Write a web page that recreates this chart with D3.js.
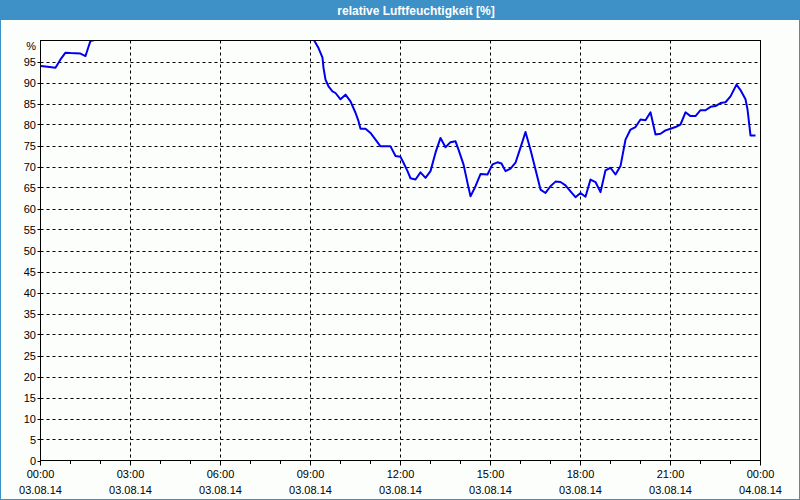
<!DOCTYPE html>
<html>
<head>
<meta charset="utf-8">
<script src="https://cdn.jsdelivr.net/npm/d3@7/dist/d3.min.js"></script>
<style>
  html, body { margin: 0; padding: 0; background: #fcfefc; }
  svg { display: block; }
</style>
</head>
<body>
<svg id="chart" width="800" height="500"></svg>
<script>
// ---- data ----
const title = "relative Luftfeuchtigkeit [%]";
// minutes since 03.08.14 00:00
const minutes = [0,10,30,40,50,60,80,90,96,100,110,120,540,546,556,564,566,570,576,584,590,600,610,620,630,636,640,650,660,670,680,700,710,720,726,734,740,750,760,770,780,790,800,810,820,830,836,846,854,860,870,880,894,904,914,922,930,940,950,960,970,980,990,1000,1010,1020,1030,1040,1050,1060,1070,1080,1090,1100,1110,1120,1130,1140,1150,1160,1170,1180,1190,1200,1210,1220,1230,1240,1250,1260,1270,1280,1290,1300,1310,1320,1330,1340,1350,1360,1370,1380,1392,1400,1410,1414,1420,1430];
const humidity = [93.9,93.8,93.5,95.5,97.1,97.0,96.9,96.3,98.5,99.9,100.2,101,101,100.3,98.2,95.9,93.5,90.7,89.1,87.9,87.5,86.0,87.1,85.5,82.8,80.8,79.0,79.0,78.0,76.4,74.8,74.8,72.5,72.3,70.9,68.9,67.2,66.9,68.6,67.3,68.9,73.3,76.8,74.6,75.8,76.0,74.0,70.5,66.1,62.9,65.3,68.2,68.1,70.5,71.0,70.7,68.9,69.5,70.9,74.5,78.2,74.0,69.3,64.5,63.7,65.3,66.4,66.3,65.5,64.1,62.7,63.7,62.8,66.9,66.3,63.9,69.1,69.7,68.1,70.1,76.4,78.8,79.4,81.2,81.0,82.9,77.6,77.8,78.6,79.0,79.4,80.0,82.9,82.0,82.0,83.4,83.4,84.2,84.4,85.1,85.3,86.7,89.5,88.2,86.0,83.6,77.4,77.4];
const yTicks = [0,5,10,15,20,25,30,35,40,45,50,55,60,65,70,75,80,85,90,95];
const yTopLabel = "%";
const xTickHours = [0,3,6,9,12,15,18,21,24];
const xTickTimes = ["00:00","03:00","06:00","09:00","12:00","15:00","18:00","21:00","00:00"];
const xTickDates = ["03.08.14","03.08.14","03.08.14","03.08.14","03.08.14","03.08.14","03.08.14","03.08.14","04.08.14"];
const xMinorHours = d3.range(0, 25);

// ---- layout ----
const W = 800, H = 500;
const L = 40.5, R = 760.5, T = 40.5, B = 460.5;
const blue = "#3d91c6";
const font = "'Liberation Sans', Arial, sans-serif";

const svg = d3.select("#chart");
const x = d3.scaleLinear().domain([0, 24 * 60]).range([L, R]);
const y = d3.scaleLinear().domain([0, 100]).range([B, T]);

// background + outer border
svg.append("rect").attr("x", 0).attr("y", 0).attr("width", W).attr("height", H).attr("fill", "#fcfefc");
svg.append("rect").attr("x", 0.5).attr("y", 0.5).attr("width", W - 1).attr("height", H - 1)
  .attr("fill", "none").attr("stroke", blue).attr("stroke-width", 1);
// title bar
svg.append("rect").attr("x", 0).attr("y", 0).attr("width", W).attr("height", 20).attr("fill", blue);
svg.append("text").attr("x", 416).attr("y", 14.5).attr("text-anchor", "middle")
  .attr("fill", "#ffffff").attr("font-family", font).attr("font-size", 12).attr("font-weight", "bold")
  .text(title);

// grid
const grid = svg.append("g").attr("stroke", "#000").attr("stroke-width", 1).attr("stroke-dasharray", "3,3");
grid.selectAll("line.h").data(yTicks.filter(d => d > 0)).join("line")
  .attr("x1", L).attr("x2", R)
  .attr("y1", d => Math.round(y(d)) + 0.5).attr("y2", d => Math.round(y(d)) + 0.5);
grid.selectAll("line.v").data(xTickHours.filter(h => h > 0 && h < 24)).join("line")
  .attr("x1", h => x(h * 60)).attr("x2", h => x(h * 60))
  .attr("y1", T).attr("y2", B);

// data line
svg.append("clipPath").attr("id", "clip").append("rect")
  .attr("x", L).attr("y", T).attr("width", R - L).attr("height", B - T);
const pts = minutes.map((m, i) => [m, humidity[i]]);
svg.append("path").datum(pts)
  .attr("clip-path", "url(#clip)")
  .attr("fill", "none").attr("stroke", "#0000ee").attr("stroke-width", 2)
  .attr("stroke-linejoin", "round")
  .attr("d", d3.line().x(d => x(d[0])).y(d => y(d[1])));

// frame
svg.append("rect").attr("x", L).attr("y", T).attr("width", R - L).attr("height", B - T)
  .attr("fill", "none").attr("stroke", "#000").attr("stroke-width", 1);

// y axis labels & ticks
const yAxis = svg.append("g");
yAxis.selectAll("line").data(yTicks).join("line")
  .attr("x1", L - 3).attr("x2", L)
  .attr("y1", d => Math.round(y(d)) + 0.5).attr("y2", d => Math.round(y(d)) + 0.5)
  .attr("stroke", "#000");
yAxis.selectAll("text").data(yTicks).join("text")
  .attr("x", 36).attr("y", d => y(d) + 4)
  .attr("text-anchor", "end").attr("font-family", font).attr("font-size", 11).attr("fill", "#000")
  .text(d => d);
svg.append("text").attr("x", 36).attr("y", 50)
  .attr("text-anchor", "end").attr("font-family", font).attr("font-size", 11).attr("fill", "#000")
  .text(yTopLabel);

// x axis ticks & labels
const xAxis = svg.append("g");
xAxis.selectAll("line.minor").data(xMinorHours).join("line")
  .attr("x1", h => x(h * 60)).attr("x2", h => x(h * 60))
  .attr("y1", B).attr("y2", d => xTickHours.includes(d) ? B + 5 : B + 3.5)
  .attr("stroke", "#000");
xAxis.selectAll("text.t").data(xTickHours).join("text")
  .attr("x", h => x(h * 60)).attr("y", 478)
  .attr("text-anchor", "middle").attr("font-family", font).attr("font-size", 11).attr("fill", "#000")
  .text((h, i) => xTickTimes[i]);
xAxis.selectAll("text.d").data(xTickHours).join("text")
  .attr("x", h => x(h * 60)).attr("y", 494)
  .attr("text-anchor", "middle").attr("font-family", font).attr("font-size", 11).attr("fill", "#000")
  .text((h, i) => xTickDates[i]);
</script>
</body>
</html>
